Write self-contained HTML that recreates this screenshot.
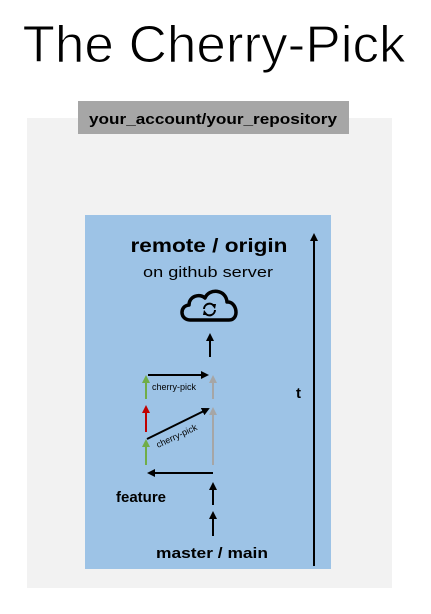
<!DOCTYPE html>
<html><head><style>body{margin:0;background:#fff}</style></head><body>
<svg width="431" height="609" xmlns="http://www.w3.org/2000/svg" font-family="Liberation Sans, sans-serif">
<defs>
<marker id="k" markerWidth="8" markerHeight="8" refX="6" refY="4" orient="auto" markerUnits="userSpaceOnUse"><path d="M0,0 L8,4 L0,8 z" fill="#000"/></marker>
<marker id="g" markerWidth="8" markerHeight="8" refX="6" refY="4" orient="auto" markerUnits="userSpaceOnUse"><path d="M0,0 L8,4 L0,8 z" fill="#70ad47"/></marker>
<marker id="r" markerWidth="8" markerHeight="8" refX="6" refY="4" orient="auto" markerUnits="userSpaceOnUse"><path d="M0,0 L8,4 L0,8 z" fill="#c00000"/></marker>
<marker id="y" markerWidth="8" markerHeight="8" refX="6" refY="4" orient="auto" markerUnits="userSpaceOnUse"><path d="M0,0 L8,4 L0,8 z" fill="#a6a6a6"/></marker>
</defs>
<text x="214" y="62" font-size="52" text-anchor="middle" textLength="383" lengthAdjust="spacingAndGlyphs" stroke="#fff" stroke-width="1">The Cherry-Pick</text>
<rect x="27" y="118" width="365" height="470" fill="#f2f2f2"/>
<rect x="78" y="101" width="271" height="33" fill="#a6a6a6"/>
<text x="213" y="124" font-size="15" font-weight="bold" text-anchor="middle" textLength="248" lengthAdjust="spacingAndGlyphs">your_account/your_repository</text>
<rect x="85" y="215" width="246" height="354" fill="#9dc3e6"/>
<text x="209" y="252" font-size="19" font-weight="bold" text-anchor="middle" textLength="157" lengthAdjust="spacingAndGlyphs">remote / origin</text>
<text x="208" y="277" font-size="15" text-anchor="middle" textLength="130" lengthAdjust="spacingAndGlyphs">on github server</text>
<path d="M190,320 C180,320 179,306 189,305 C189,296 200,293 205,298 C209,288 226,289 227,302 C237,301 240,320 229,320 Z" fill="none" stroke="#000" stroke-width="3.5" stroke-linejoin="round"/>
<path d="M204,309 A5.5,5.5 0 0 1 214,306 M215,310 A5.5,5.5 0 0 1 205,313" fill="none" stroke="#000" stroke-width="2"/>
<path d="M211,304 L216,304 L215,309 Z M208,315 L203,315 L204,310 Z" fill="#000"/>
<line x1="314" y1="566" x2="314" y2="235" stroke="#000" stroke-width="2" marker-end="url(#k)"/>
<line x1="210" y1="357" x2="210" y2="335" stroke="#000" stroke-width="2" marker-end="url(#k)"/>
<line x1="146" y1="399" x2="146" y2="377" stroke="#70ad47" stroke-width="2" marker-end="url(#g)"/>
<line x1="146" y1="432" x2="146" y2="407" stroke="#c00000" stroke-width="2" marker-end="url(#r)"/>
<line x1="146" y1="465" x2="146" y2="441" stroke="#70ad47" stroke-width="2" marker-end="url(#g)"/>
<line x1="213" y1="399" x2="213" y2="377" stroke="#a6a6a6" stroke-width="2" marker-end="url(#y)"/>
<line x1="213" y1="465" x2="213" y2="409" stroke="#a6a6a6" stroke-width="2" marker-end="url(#y)"/>
<line x1="148" y1="375" x2="207" y2="375" stroke="#000" stroke-width="2" marker-end="url(#k)"/>
<line x1="147" y1="439" x2="208" y2="409" stroke="#000" stroke-width="2" marker-end="url(#k)"/>
<line x1="213" y1="473" x2="149" y2="473" stroke="#000" stroke-width="2" marker-end="url(#k)"/>
<line x1="213" y1="505" x2="213" y2="484" stroke="#000" stroke-width="2" marker-end="url(#k)"/>
<line x1="213" y1="536" x2="213" y2="513" stroke="#000" stroke-width="2" marker-end="url(#k)"/>
<text x="152" y="390" font-size="9">cherry-pick</text>
<text x="158" y="448" font-size="9" transform="rotate(-25 158 448)">cherry-pick</text>
<text x="116" y="502" font-size="15" font-weight="bold">feature</text>
<text x="212" y="558" font-size="15" font-weight="bold" text-anchor="middle" textLength="112" lengthAdjust="spacingAndGlyphs">master / main</text>
<text x="296" y="398" font-size="15" font-weight="bold">t</text>
</svg>
</body></html>
